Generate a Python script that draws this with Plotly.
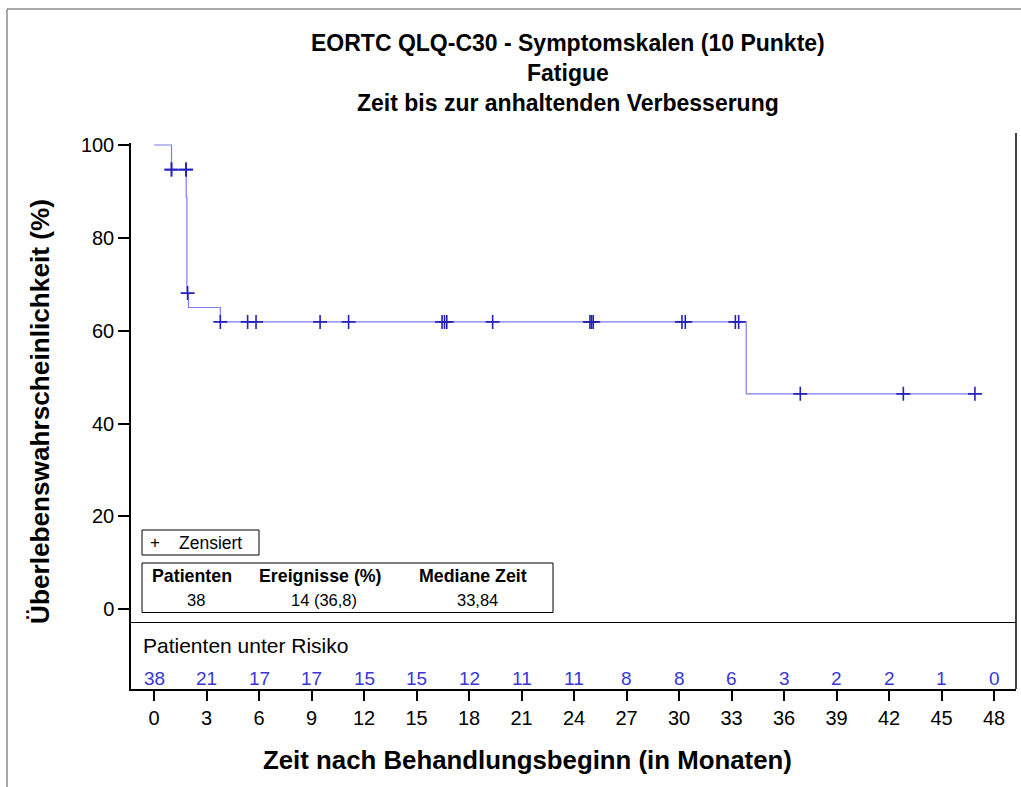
import plotly.graph_objects as go

# ---- data ----
step_times = [0, 1.0, 1.84, 1.88, 1.97, 3.79, 33.84]
step_surv = [100, 94.7, 88.8, 68.1, 65.0, 61.9, 46.4]
last_time = 46.91

cens_times = [1.0, 1.0, 1.83, 1.83, 1.92, 3.79, 5.35, 5.83, 9.49, 11.12,
              16.46, 16.60, 16.73, 19.35, 24.91, 25.00, 25.10, 30.17, 30.36,
              33.22, 33.41, 36.93, 42.82, 46.91]
cens_surv = [94.7, 94.7, 94.7, 94.7, 68.1, 61.9, 61.9, 61.9, 61.9, 61.9,
             61.9, 61.9, 61.9, 61.9, 61.9, 61.9, 61.9, 61.9, 61.9,
             61.9, 61.9, 46.4, 46.4, 46.4]

risk_times = [0, 3, 6, 9, 12, 15, 18, 21, 24, 27, 30, 33, 36, 39, 42, 45, 48]
risk_counts = [38, 21, 17, 17, 15, 15, 12, 11, 11, 8, 8, 6, 3, 2, 2, 1, 0]

x_ticks = list(range(0, 49, 3))
y_ticks = [0, 20, 40, 60, 80, 100]

stat_headers = ["Patienten", "Ereignisse (%)", "Mediane Zeit"]
stat_values = ["38", "14 (36,8)", "33,84"]

title_lines = ["EORTC QLQ-C30 - Symptomskalen (10 Punkte)", "Fatigue",
               "Zeit bis zur anhaltenden Verbesserung"]
x_title = "Zeit nach Behandlungsbeginn (in Monaten)"
y_title = "Überlebenswahrscheinlichkeit (%)"

# ---- geometry (pixels) ----
W, H = 1021, 787
L, R, T, B = 131, 1016, 143, 689
FONT = "Liberation Sans, Arial, sans-serif"
LINE_COL = "rgb(125,125,235)"
MARK_COL = "rgb(35,35,185)"
RISK_COL = "rgb(55,55,215)"

def px(xp):
    return (xp - L) / (R - L)

def py(yp):
    return (B - yp) / (B - T)

X0_PX, X_PER = 154.0, 17.5
Y0_PX, Y_PER = 609.3, 4.643
x_range = [(L - X0_PX) / X_PER, (R - X0_PX) / X_PER]
y_range = [(Y0_PX - B) / Y_PER, (Y0_PX - T) / Y_PER]

fig = go.Figure()

fig.add_trace(go.Scatter(
    x=step_times + [last_time], y=step_surv + [step_surv[-1]],
    mode="lines", line=dict(color=LINE_COL, width=1.2, shape="hv"),
    hoverinfo="skip", showlegend=False))

fig.add_trace(go.Scatter(
    x=cens_times, y=cens_surv, mode="markers",
    marker=dict(symbol="cross-thin", size=10,
                line=dict(color=MARK_COL, width=1.6)),
    hoverinfo="skip", showlegend=False))

ann = []
for i, t in enumerate(title_lines):
    ann.append(dict(text="<b>%s</b>" % t, x=px(568), y=py([43, 73, 103][i]),
                    xref="paper", yref="paper", showarrow=False,
                    xanchor="center", yanchor="middle",
                    font=dict(family=FONT, size=23, color="black")))

for t, c in zip(risk_times, risk_counts):
    ann.append(dict(text=str(c), x=t, y=(Y0_PX - 678) / Y_PER,
                    xref="x", yref="y", showarrow=False,
                    xanchor="center", yanchor="middle",
                    font=dict(family=FONT, size=19, color=RISK_COL)))

ann.append(dict(text="Patienten unter Risiko", x=px(141), y=py(645),
                xref="paper", yref="paper", showarrow=False,
                xanchor="left", yanchor="middle",
                font=dict(family=FONT, size=21, color="black")))

ann.append(dict(text="+", x=px(155), y=py(542.5),
                xref="paper", yref="paper", showarrow=False,
                xanchor="center", yanchor="middle",
                font=dict(family=FONT, size=17, color="black")))
ann.append(dict(text="Zensiert", x=px(177), y=py(542.5),
                xref="paper", yref="paper", showarrow=False,
                xanchor="left", yanchor="middle",
                font=dict(family=FONT, size=17.5, color="black")))

for cx, h, v in zip([192, 320, 473], stat_headers, stat_values):
    ann.append(dict(text="<b>%s</b>" % h, x=px(cx), y=py(576),
                    xref="paper", yref="paper", showarrow=False,
                    xanchor="center", yanchor="middle",
                    font=dict(family=FONT, size=17.8, color="black")))
    ann.append(dict(text=v, x=px(cx + 4), y=py(599.5),
                    xref="paper", yref="paper", showarrow=False,
                    xanchor="center", yanchor="middle",
                    font=dict(family=FONT, size=16.5, color="black")))

ann.append(dict(text="<b>%s</b>" % x_title, x=px(527), y=py(760),
                xref="paper", yref="paper", showarrow=False,
                xanchor="center", yanchor="middle",
                font=dict(family=FONT, size=25.8, color="black")))
ann.append(dict(text="<b>%s</b>" % y_title, x=px(40), y=py(412),
                xref="paper", yref="paper", showarrow=False, textangle=-90,
                xanchor="center", yanchor="middle",
                font=dict(family=FONT, size=26.2, color="black")))

shapes = [
    # outer gray frame (top, left)
    dict(type="line", xref="paper", yref="paper", x0=px(7), x1=px(1021),
         y0=py(9), y1=py(9), line=dict(color="rgb(140,140,140)", width=1.5)),
    dict(type="line", xref="paper", yref="paper", x0=px(7), x1=px(7),
         y0=py(9), y1=py(787), line=dict(color="rgb(140,140,140)", width=1.5)),
    # right plot border
    dict(type="line", xref="paper", yref="paper", x0=1, x1=1,
         y0=0, y1=py(133), line=dict(color="black", width=1.5)),
    # separator of the risk table
    dict(type="line", xref="paper", yref="y", x0=0, x1=1,
         y0=(Y0_PX - 622.5) / Y_PER, y1=(Y0_PX - 622.5) / Y_PER,
         line=dict(color="black", width=1.2)),
    # legend boxes
    dict(type="rect", xref="paper", yref="paper", x0=px(142), x1=px(259),
         y0=py(555), y1=py(530), line=dict(color="black", width=1),
         fillcolor="white"),
    dict(type="rect", xref="paper", yref="paper", x0=px(142), x1=px(553),
         y0=py(612.5), y1=py(563), line=dict(color="black", width=1),
         fillcolor="white"),
]

fig.update_layout(
    width=W, height=H,
    margin=dict(l=L, r=W - R, t=T, b=H - B, pad=0),
    paper_bgcolor="white", plot_bgcolor="white",
    showlegend=False,
    annotations=ann, shapes=shapes,
    xaxis=dict(range=x_range, tickmode="array", tickvals=x_ticks,
               ticktext=[str(v) for v in x_ticks],
               ticks="outside", ticklen=10, tickwidth=1.5, tickcolor="black",
               showline=True, linecolor="black", linewidth=1.5,
               showgrid=False, zeroline=False,
               tickfont=dict(family=FONT, size=20, color="black")),
    yaxis=dict(range=y_range, tickmode="array", tickvals=y_ticks,
               ticktext=[str(v) for v in y_ticks],
               ticks="outside", ticklen=11, tickwidth=1.5, tickcolor="black",
               showline=True, linecolor="black", linewidth=1.5,
               showgrid=False, zeroline=False,
               tickfont=dict(family=FONT, size=20, color="black")),
)

fig.write_html("out.html")
